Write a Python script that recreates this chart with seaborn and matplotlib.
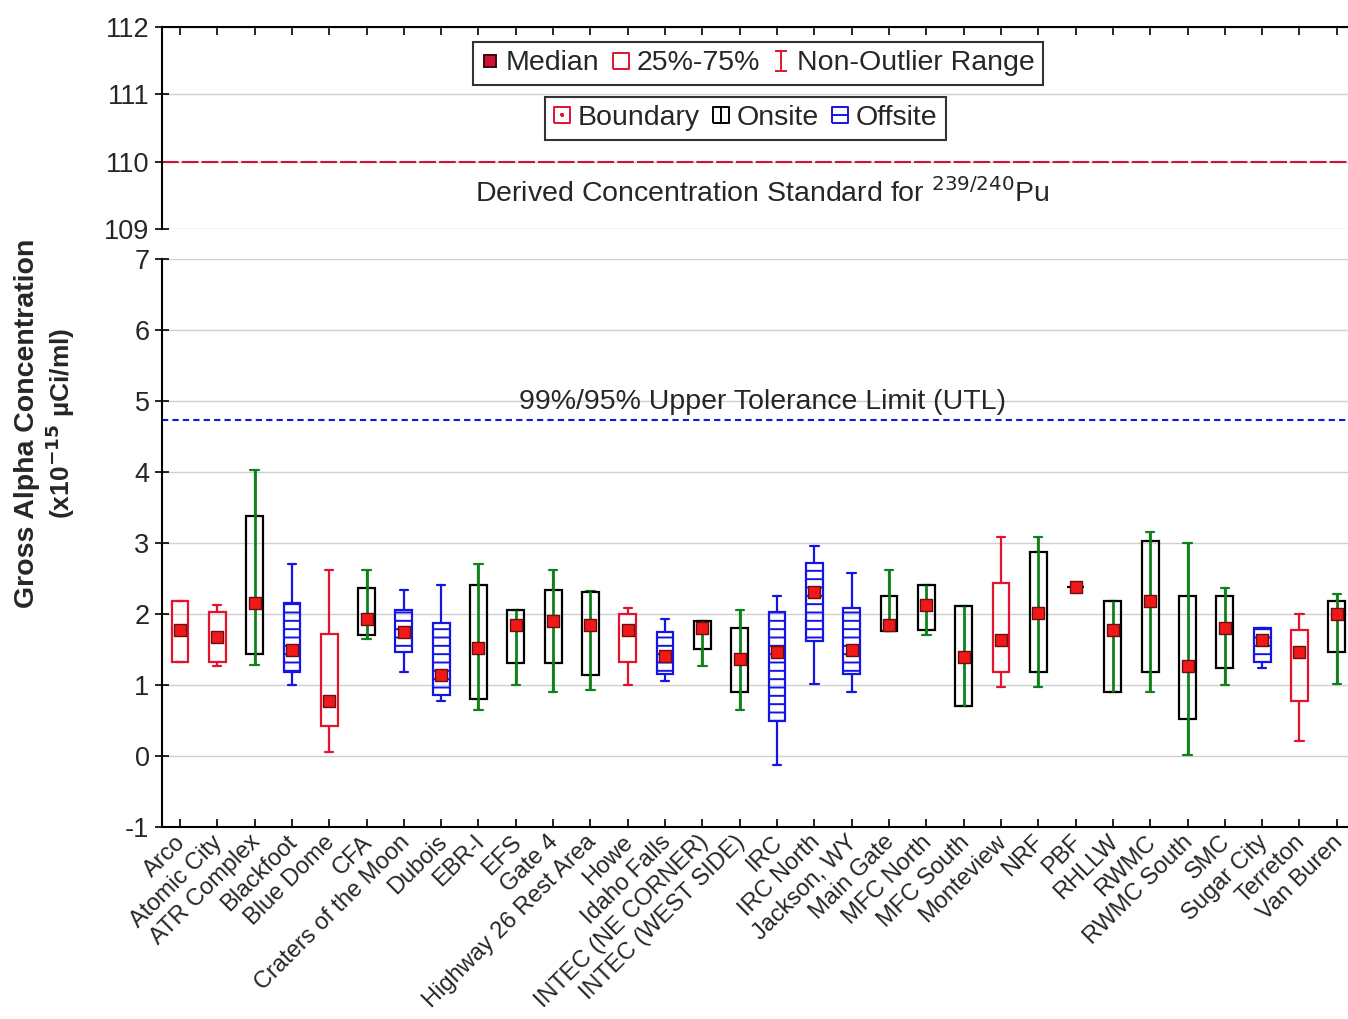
import numpy as np
import pandas as pd
import seaborn as sns
import matplotlib.pyplot as plt
from matplotlib.path import Path
from matplotlib.lines import Line2D

# summary stats (x10^-15 uCi/ml)
sites = ['Arco', 'Atomic City', 'ATR Complex', 'Blackfoot', 'Blue Dome', 'CFA',
         'Craters of the Moon', 'Dubois', 'EBR-I', 'EFS', 'Gate 4',
         'Highway 26 Rest Area', 'Howe', 'Idaho Falls', 'INTEC (NE CORNER)',
         'INTEC (WEST SIDE)', 'IRC', 'IRC North', 'Jackson, WY', 'Main Gate',
         'MFC North', 'MFC South', 'Monteview', 'NRF', 'PBF', 'RHLLW', 'RWMC',
         'RWMC South', 'SMC', 'Sugar City', 'Terreton', 'Van Buren']
site_type = ['Boundary', 'Boundary', 'Onsite', 'Offsite', 'Boundary', 'Onsite',
             'Offsite', 'Offsite', 'Onsite', 'Onsite', 'Onsite',
             'Onsite', 'Boundary', 'Offsite', 'Onsite',
             'Onsite', 'Offsite', 'Offsite', 'Offsite', 'Onsite',
             'Onsite', 'Onsite', 'Boundary', 'Onsite', 'Onsite', 'Onsite', 'Onsite',
             'Onsite', 'Onsite', 'Offsite', 'Boundary', 'Onsite']
whisker_low = [1.33, 1.27, 1.28, 1.00, 0.05, 1.65, 1.18, 0.78, 0.65, 1.00, 0.90,
               0.93, 1.00, 1.06, 1.27, 0.65, -0.13, 1.02, 0.90, 1.76, 1.71, 0.71,
               0.97, 0.97, 2.38, 0.90, 0.90, 0.02, 1.00, 1.24, 0.21, 1.02]
box_low = [1.33, 1.33, 1.43, 1.18, 0.42, 1.71, 1.46, 0.86, 0.80, 1.31, 1.31,
           1.14, 1.33, 1.15, 1.51, 0.90, 0.49, 1.62, 1.15, 1.76, 1.77, 0.71,
           1.18, 1.18, 2.38, 0.90, 1.18, 0.52, 1.24, 1.33, 0.77, 1.46]
median = [1.77, 1.68, 2.15, 1.50, 0.78, 1.93, 1.75, 1.14, 1.52, 1.84, 1.90,
          1.85, 1.78, 1.41, 1.80, 1.37, 1.47, 2.31, 1.50, 1.85, 2.13, 1.40,
          1.63, 2.02, 2.38, 1.77, 2.19, 1.27, 1.81, 1.63, 1.47, 2.00]
box_high = [2.18, 2.03, 3.38, 2.16, 1.72, 2.37, 2.06, 1.87, 2.41, 2.06, 2.34,
            2.31, 2.00, 1.75, 1.90, 1.81, 2.03, 2.72, 2.09, 2.25, 2.41, 2.12,
            2.43, 2.88, 2.38, 2.18, 3.03, 2.25, 2.25, 1.81, 1.77, 2.18]
whisker_high = [2.18, 2.13, 4.03, 2.71, 2.62, 2.62, 2.34, 2.41, 2.71, 2.06, 2.62,
                2.33, 2.09, 1.93, 1.90, 2.06, 2.25, 2.96, 2.58, 2.62, 2.41, 2.12,
                3.09, 3.09, 2.38, 2.18, 3.16, 3.00, 2.37, 1.81, 2.00, 2.28]

dcs_value = 110
utl_value = 4.73

RED = '#e3122d'
GREEN = '#10801a'
BLUE = '#1414e6'

# five points per site -> quartiles and min/max are exactly the read values
rows = []
for i, s in enumerate(sites):
    for v in (whisker_low[i], box_low[i], median[i], box_high[i], whisker_high[i]):
        rows.append({'site': s, 'type': site_type[i], 'value': v})
df = pd.DataFrame(rows)
med_df = pd.DataFrame({'site': sites, 'median': median, 'type': site_type})

sns.set_theme(style='white')
plt.rcParams['font.family'] = ['Liberation Sans', 'DejaVu Sans']
plt.rcParams['hatch.linewidth'] = 1.4
plt.rcParams['axes.unicode_minus'] = False

fig = plt.figure(figsize=(13.48, 10.19), dpi=100)
ax_top = fig.add_axes([0.1202, 0.7753, 0.8798, 0.1982])
ax = fig.add_axes([0.1202, 0.1884, 0.8798, 0.5574])

styles = {
    'Boundary': dict(color=RED, box=RED, hatch=None),
    'Onsite': dict(color=GREEN, box='black', hatch=None),
    'Offsite': dict(color=BLUE, box=BLUE, hatch='--'),
}
for t, st in styles.items():
    n_before = len(ax.patches)
    sns.boxplot(data=df[df['type'] == t], x='site', y='value', order=sites,
                whis=(0, 100), fill=True, color='white', linecolor=st['color'],
                width=0.45, linewidth=1.6, showfliers=False, ax=ax,
                medianprops=dict(visible=False))
    for p in ax.patches[n_before:]:
        p.set_facecolor('none')
        p.set_edgecolor(st['box'])
        if st['hatch']:
            p.set_hatch(st['hatch'])
        p.set_zorder(3)

# green line through the onsite boxes
pos = np.arange(len(sites))
onsite = np.array(site_type) == 'Onsite'
ax.vlines(pos[onsite], np.array(whisker_low)[onsite], np.array(whisker_high)[onsite],
          color=GREEN, lw=2, zorder=4)

sns.stripplot(data=med_df, x='site', y='median', order=sites, jitter=False,
              marker='s', size=9, color='#f01818', edgecolor='#6a1010',
              linewidth=1, ax=ax, zorder=6)

# bottom panel
ax.axhline(utl_value, color=BLUE, ls=(0, (3, 2)), lw=1.5, zorder=2)
ax.text(15.6, 4.98, '99%/95% Upper Tolerance Limit (UTL)', ha='center', va='center',
        fontsize=20.5)
ax.set_ylim(-1, 7)
ax.set_yticks(range(-1, 8))
ax.set_xlim(-0.48, 31.3)
ax.set_xlabel('')
ax.set_ylabel('')
ax.grid(axis='y', color='#d0d0d0', lw=1)
ax.set_axisbelow(True)
ax.set_xticks(range(len(sites)))
ax.set_xticklabels([])
# site names, rotated, with their top-right corner just left of the tick
for i, s in enumerate(sites):
    ax.annotate(s, xy=(i, 0), xycoords=ax.get_xaxis_transform(),
                xytext=(-4, -3), textcoords='offset points', rotation=45,
                rotation_mode='anchor', ha='right', va='top', fontsize=17)
ax.tick_params(axis='x', direction='in', length=6, width=1.2, color='black',
               bottom=True)
ax.tick_params(axis='y', direction='inout', length=10, width=1.2, color='black',
               left=True, labelsize=19.5, pad=4)
for side in ['top', 'right']:
    ax.spines[side].set_visible(False)
for side in ['left', 'bottom']:
    ax.spines[side].set_color('black')
    ax.spines[side].set_linewidth(1.5)

# top panel
ax_top.axhline(dcs_value, color='#d0103a', ls=(0, (8, 1.5)), lw=1.5, zorder=2)
ax_top.text(15.6, 109.54, 'Derived Concentration Standard for $^{239/240}$Pu',
            ha='center', va='center', fontsize=20.5)
ax_top.set_ylim(109, 112)
ax_top.set_yticks([109, 110, 111, 112])
ax_top.set_xlim(-0.48, 31.3)
ax_top.set_xticks(range(len(sites)))
ax_top.grid(axis='y', color='#d0d0d0', lw=1)
ax_top.set_axisbelow(True)
ax_top.tick_params(axis='x', direction='in', length=6, width=1.2, color='black',
                   bottom=False, top=True, labelbottom=False)
ax_top.tick_params(axis='y', direction='inout', length=10, width=1.2, color='black',
                   left=True, labelsize=19.5, pad=4)
for side in ['bottom', 'right']:
    ax_top.spines[side].set_visible(False)
for side in ['left', 'top']:
    ax_top.spines[side].set_color('black')
    ax_top.spines[side].set_linewidth(1.5)

# legend symbols
M, L = Path.MOVETO, Path.LINETO
sq = [(-1, -1), (1, -1), (1, 1), (-1, 1), (-1, -1)]
sq_codes = [M, L, L, L, L]
box_path = Path(sq, sq_codes)
range_path = Path([(-0.6, 1), (0.6, 1), (0, 1), (0, -1), (-0.6, -1), (0.6, -1)],
                  [M, L, M, L, M, L])
dot_path = Path(sq + [(-0.15, -0.15), (0.15, -0.15), (0.15, 0.15), (-0.15, 0.15), (-0.15, -0.15)],
                sq_codes + [M, L, L, L, L])
vline_path = Path(sq + [(0, -1), (0, 1)], sq_codes + [M, L])
hline_path = Path(sq + [(-1, 0), (1, 0)], sq_codes + [M, L])

def handle(marker, color, ms=12, fill='none', mew=1.4):
    return Line2D([], [], ls='none', marker=marker, markersize=ms,
                  markerfacecolor=fill, markeredgecolor=color, markeredgewidth=mew)

h1 = [handle('s', '#3a0a0a', ms=8, fill='#d0103a'), handle(box_path, RED),
      handle(range_path, RED, ms=14)]
h2 = [handle(dot_path, RED), handle(vline_path, 'black'), handle(hline_path, BLUE)]
leg_kw = dict(frameon=True, fancybox=False, edgecolor='black', fontsize=20.5,
              handlelength=0.6, handletextpad=0.25, columnspacing=0.45,
              borderpad=0.3, borderaxespad=0)
leg1 = ax_top.legend(handles=h1, labels=['Median', '25%-75%', 'Non-Outlier Range'],
                     ncol=3, loc='upper center', bbox_to_anchor=(0.5025, 0.926), **leg_kw)
leg1.get_frame().set_linewidth(1.5)
ax_top.add_artist(leg1)
leg2 = ax_top.legend(handles=h2, labels=['Boundary', 'Onsite', 'Offsite'],
                     ncol=3, loc='upper center', bbox_to_anchor=(0.492, 0.655), **leg_kw)
leg2.get_frame().set_linewidth(1.5)

fig.text(0.020, 0.585, 'Gross Alpha Concentration', rotation=90, ha='center',
         va='center', fontsize=20.5, fontweight='bold')
fig.text(0.045, 0.585, r'(x10$^{\mathbf{-15}}$ µCi/ml)', rotation=90,
         ha='center', va='center', fontsize=19, fontweight='bold')

fig.savefig('out.png', dpi=100)
